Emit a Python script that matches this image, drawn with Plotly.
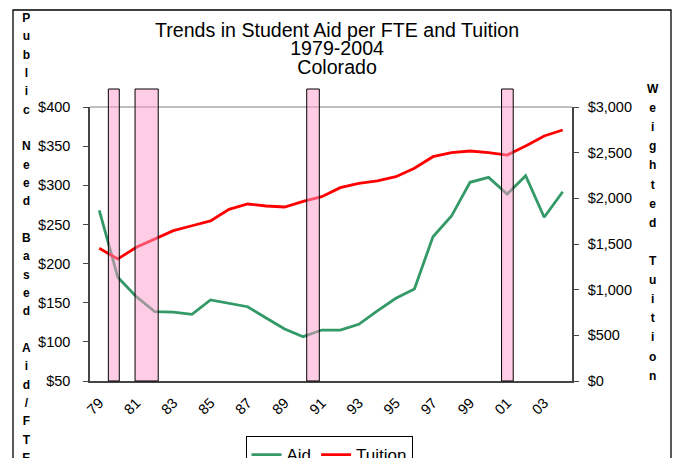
import plotly.graph_objects as go

# ---------------- data ----------------
years = list(range(1979, 2005))
aid = [268, 182.5, 157.7, 138.5, 138, 135.2, 153.5, 149.2, 144.9, 130.5,
       116.4, 106.6, 115.1, 115, 122.4, 139.5, 155.6, 167.5, 234.3, 260.7,
       303.8, 310.1, 288.8, 312.2, 259.1, 291.8]
tuition = [1453, 1336, 1464, 1551, 1646, 1700, 1752, 1880, 1938, 1916,
           1905, 1967, 2018, 2117, 2164, 2190, 2237, 2329, 2456, 2500,
           2518, 2500, 2474, 2573, 2683, 2748]
label_years = list(range(1979, 2004, 2))
tick_labels = ["79", "81", "83", "85", "87", "89", "91", "93", "95", "97",
               "99", "01", "03"]
recession_start = [1979.49, 1980.93, 1990.19, 2000.70]
recession_end = [1980.08, 1982.18, 1990.87, 2001.33]

title_lines = ["Trends in Student Aid per FTE and Tuition", "1979-2004", "Colorado"]
left_title = "Public Need Based Aid/FTE"
right_title = "Weighted Tuition"

# ---------------- geometry ----------------
W, H = 676, 458
L, R, T, B = 90, 572, 107, 381
pw, ph = R - L, B - T


def px(x):
    return (x - L) / pw


def py(y):
    return (B - y) / ph


FONT = "Liberation Sans, Arial, sans-serif"
AXC = "#454545"
GREEN = "#339966"
RED = "#FF0000"

fig = go.Figure()
fig.add_trace(go.Scatter(x=years, y=aid, name="Aid", mode="lines",
                         line=dict(color=GREEN, width=2.8), yaxis="y"))
fig.add_trace(go.Scatter(x=years, y=tuition, name="Tuition", mode="lines",
                         line=dict(color=RED, width=2.8), yaxis="y2"))

xr = [years[0] - 0.5, years[-1] + 0.5]
boundaries = [y - 0.5 for y in years] + [years[-1] + 0.5]

shapes = []
shapes.append(dict(type="line", xref="paper", yref="paper", x0=0, x1=1, y0=1, y1=1,
                   line=dict(color="#A8A8A8", width=1.5), layer="below"))
for s, e in zip(recession_start, recession_end):
    shapes.append(dict(type="rect", xref="x", yref="paper", x0=s, x1=e,
                       y0=0, y1=py(89), fillcolor="#FF99CC", opacity=0.5,
                       line=dict(width=0), layer="above"))
    shapes.append(dict(type="rect", xref="x", yref="paper", x0=s, x1=e,
                       y0=0, y1=py(89), fillcolor="rgba(0,0,0,0)",
                       line=dict(color="#000000", width=1), layer="above"))
shapes.append(dict(type="rect", xref="paper", yref="paper",
                   x0=px(13), x1=px(671), y0=py(475), y1=py(10),
                   line=dict(color="#000000", width=1.3), fillcolor="rgba(0,0,0,0)"))


def span_lines(lines, inner, bold=False):
    parts = []
    for c in lines:
        if c == " " or c == "":
            parts.append("")
        else:
            t = "<b>%s</b>" % c if bold else c
            parts.append("<span style='font-size:%spx'>%s</span>" % (inner, t))
    return "<br>".join(parts)


annotations = []
annotations.append(dict(text=span_lines(title_lines, 19.6), xref="paper", yref="paper",
                        x=px(336.5), y=py(48.5), xanchor="center", yanchor="middle",
                        showarrow=False,
                        font=dict(family=FONT, size=14.1, color="#000000")))
annotations.append(dict(text=span_lines(list(left_title), 12, bold=True), xref="paper",
                        yref="paper", x=px(27), y=py(238), xanchor="center",
                        yanchor="middle", showarrow=False,
                        font=dict(family=FONT, size=14.1, color="#000000")))
annotations.append(dict(text=span_lines(list(right_title), 12, bold=True), xref="paper",
                        yref="paper", x=px(653), y=py(232.7), xanchor="center",
                        yanchor="middle", showarrow=False,
                        font=dict(family=FONT, size=14.7, color="#000000")))

tickfont = dict(family=FONT, size=14.5, color="#000000")

fig.update_layout(
    width=W, height=H,
    margin=dict(l=L, r=W - R, t=T, b=H - B, autoexpand=False),
    paper_bgcolor="white", plot_bgcolor="white",
    showlegend=True,
    legend=dict(orientation="h", x=px(329), y=py(436), xanchor="center", yanchor="top",
                bordercolor="#000000", borderwidth=1, bgcolor="white",
                font=dict(family=FONT, size=17, color="#000000"),
                tracegroupgap=0, itemwidth=30),
    xaxis=dict(range=xr, tickvals=label_years, ticktext=tick_labels, ticks="",
               tickangle=-45, tickfont=tickfont, showline=True, linecolor=AXC, linewidth=1.5,
               showgrid=False, zeroline=False, ticklabelstandoff=6),
    xaxis2=dict(range=xr, overlaying="x", anchor="y", side="bottom", tickvals=boundaries,
                ticks="outside", ticklen=5, tickcolor=AXC, tickwidth=1.3,
                showticklabels=False, showgrid=False, zeroline=False, showline=False),
    yaxis=dict(range=[50, 400], dtick=50, tickprefix="$", ticks="outside", ticklen=5,
               tickcolor=AXC, tickwidth=1.3, tickfont=tickfont, showline=True,
               linecolor=AXC, linewidth=1.5, showgrid=False, zeroline=False,
               ticklabelstandoff=10),
    yaxis2=dict(range=[0, 3000], dtick=500, tickprefix="$", tickformat=",d",
                overlaying="y", side="right", ticks="outside", ticklen=5,
                tickcolor=AXC, tickwidth=1.3, tickfont=tickfont, showline=True,
                linecolor=AXC, linewidth=1.5, showgrid=False, zeroline=False,
                ticklabelstandoff=6),
    yaxis3=dict(range=[50, 400], dtick=50, overlaying="y", side="left", anchor="x",
                ticks="inside", ticklen=5, tickcolor=AXC, tickwidth=1.3,
                showticklabels=False, showgrid=False, zeroline=False, showline=False),
    yaxis4=dict(range=[0, 3000], dtick=500, overlaying="y", side="right", anchor="x",
                ticks="inside", ticklen=5, tickcolor=AXC, tickwidth=1.3,
                showticklabels=False, showgrid=False, zeroline=False, showline=False),
    shapes=shapes,
    annotations=annotations,
)

fig.write_html("out.html", config={"displayModeBar": False},
               post_script="document.body.style.margin='0';document.body.style.overflow='hidden';")
